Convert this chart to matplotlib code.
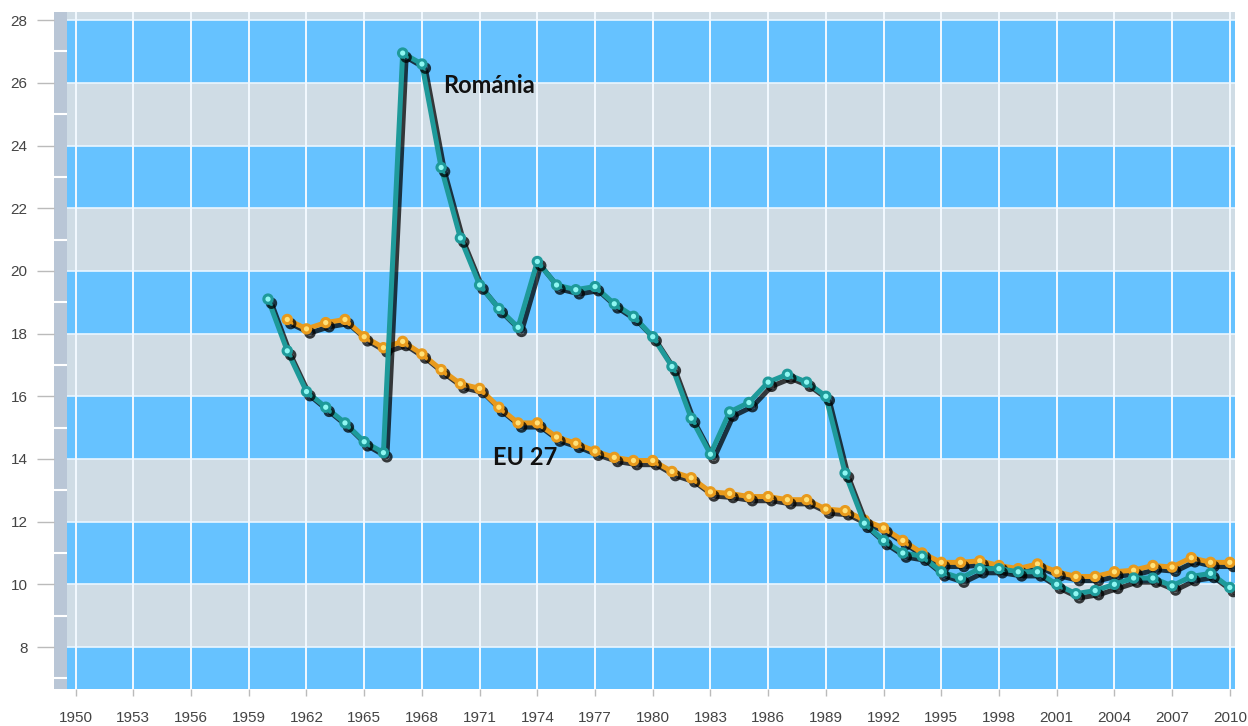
import matplotlib.pyplot as plt
import matplotlib.patheffects as pe

# crude birth rate (per 1000), Romania vs EU 27
years_ro = list(range(1960, 2011))
romania = [19.1, 17.45, 16.15, 15.65, 15.15, 14.55, 14.2, 26.95, 26.6, 23.3,
           21.05, 19.55, 18.8, 18.2, 20.3, 19.55, 19.4, 19.5, 18.95, 18.55,
           17.9, 16.95, 15.3, 14.15, 15.5, 15.8, 16.45, 16.7, 16.45, 16.0,
           13.55, 11.95, 11.4, 11.0, 10.9, 10.4, 10.2, 10.5, 10.5, 10.4,
           10.4, 10.0, 9.7, 9.8, 10.0, 10.2, 10.2, 9.95, 10.25, 10.35,
           9.9]

years_eu = list(range(1961, 2011))
eu27 = [18.45, 18.15, 18.35, 18.45, 17.9, 17.55, 17.75, 17.35, 16.85,
        16.4, 16.25, 15.65, 15.15, 15.15, 14.7, 14.5, 14.25, 14.05, 13.95,
        13.95, 13.6, 13.4, 12.95, 12.9, 12.8, 12.8, 12.7, 12.7, 12.4,
        12.35, 12.05, 11.8, 11.4, 11.0, 10.7, 10.7, 10.75, 10.6, 10.5,
        10.65, 10.4, 10.25, 10.25, 10.4, 10.45, 10.6, 10.55, 10.85, 10.7,
        10.7]

x_ticks = list(range(1950, 2011, 3))
y_ticks = list(range(8, 29, 2))

blue = "#66C2FF"
grey = "#CFDCE5"
ymin, ymax = 6.66, 28.26

plt.rcParams["font.family"] = ["Liberation Sans", "DejaVu Sans"]

fig = plt.figure(figsize=(12.48, 7.26), dpi=100)
ax = fig.add_axes([67 / 1248, 37 / 726, 1168 / 1248, 677 / 726])

# alternating bands
for lo in range(6, 30, 2):
    col = blue if (lo // 2) % 2 == 1 else grey
    ax.axhspan(lo, lo + 2, color=col, zorder=0, lw=0)
for v in y_ticks:
    ax.axhline(v, color="#EAF6FF", lw=1.2, zorder=1)
for xt in x_ticks:
    ax.axvline(xt, color="#F2F9FF", lw=1.4, zorder=1)

shadow = [pe.SimpleLineShadow(offset=(2.5, -3), shadow_color="black", alpha=0.75),
          pe.Normal()]

ax.plot(years_eu, eu27, color="#E89A1C", lw=3.6, marker="o", ms=6,
        mfc="#FFE27A", mec="#E89A1C", mew=2.2, zorder=3, path_effects=shadow)
ax.plot(years_ro, romania, color="#1E9A9A", lw=3.6, marker="o", ms=6,
        mfc="#8FF7F2", mec="#1E9A9A", mew=2.2, zorder=4, path_effects=shadow)

ax.text(1969.1, 25.9, "Románia", fontsize=17, fontweight="bold",
        family="Lato", color="#111111", va="center", ha="left", zorder=5)
ax.text(1971.7, 14.05, "EU 27", fontsize=17, fontweight="bold",
        family="Lato", color="#111111", va="center", ha="left", zorder=5)

ax.set_xlim(1949.55, 2010.27)
ax.set_ylim(ymin, ymax)
ax.set_xticks(x_ticks)
ax.set_xticklabels([str(x) for x in x_ticks])
ax.set_yticks(y_ticks)
ax.set_yticklabels([])
for s in ax.spines.values():
    s.set_visible(False)
ax.tick_params(axis="x", length=5, width=1, color="#BBBBBB", pad=11,
               labelsize=11, labelcolor="#444444")
ax.tick_params(axis="y", length=0)

# left side wall with y labels
wall = fig.add_axes([54 / 1248, 37 / 726, 13 / 1248, 677 / 726])
wall.set_facecolor("#B9C6D6")
wall.set_ylim(ymin, ymax)
wall.set_xlim(0, 1)
for v in range(7, 29, 2):
    wall.axhline(v, xmin=0.05, xmax=0.95, color="white", lw=1.5)
for s in wall.spines.values():
    s.set_visible(False)
wall.set_xticks([])
wall.set_yticks(y_ticks)
wall.set_yticklabels([str(v) for v in y_ticks])
wall.tick_params(axis="y", length=12, width=1, color="#BBBBBB", pad=7,
                 labelsize=11, labelcolor="#444444")

fig.savefig("out.png", dpi=100)
